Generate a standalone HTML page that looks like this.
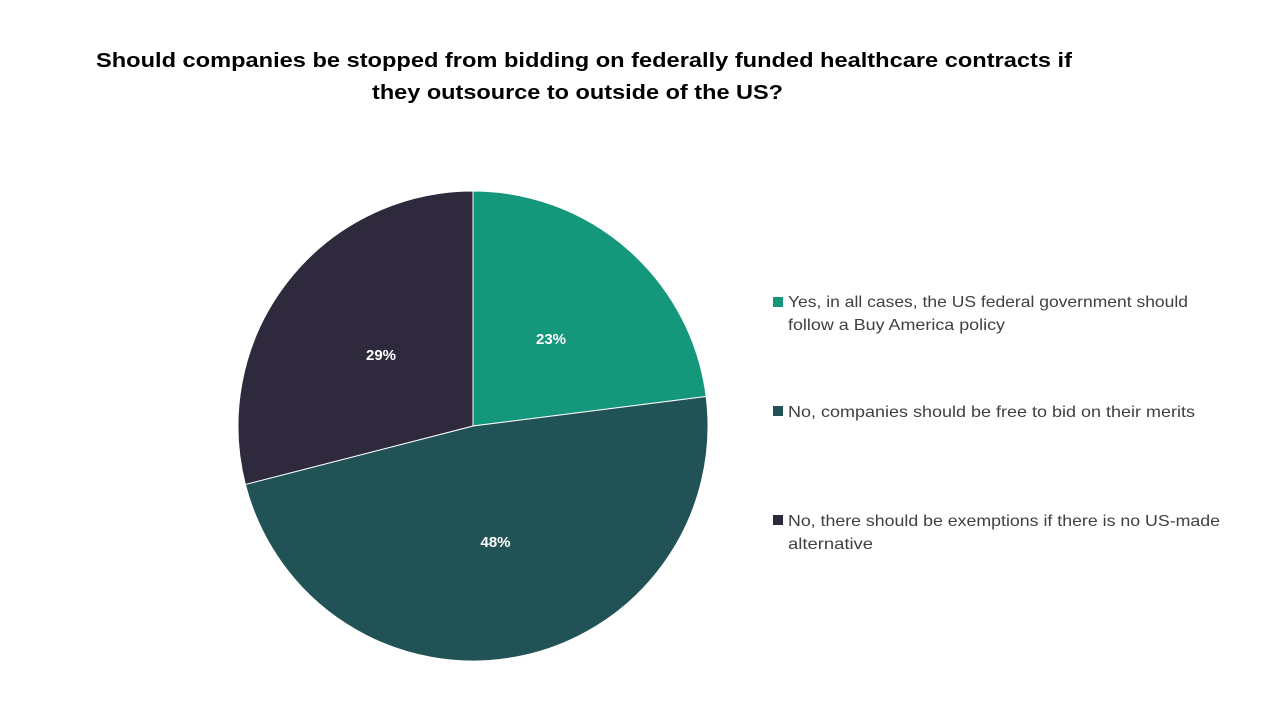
<!DOCTYPE html>
<html>
<head>
<meta charset="utf-8">
<style>
html,body{margin:0;padding:0;background:#fff;}
svg{display:block;}
</style>
</head>
<body>
<svg width="1280" height="720" viewBox="0 0 1280 720" xmlns="http://www.w3.org/2000/svg">
<rect width="1280" height="720" fill="#ffffff"/>
<g font-family="'Liberation Sans', sans-serif" font-weight="bold" font-size="20" fill="#000">
<text x="96" y="67" textLength="976" lengthAdjust="spacingAndGlyphs">Should companies be stopped from bidding on federally funded healthcare contracts if</text>
<text x="372" y="99" textLength="411" lengthAdjust="spacingAndGlyphs">they outsource to outside of the US?</text>
</g>
<g stroke="#ffffff" stroke-width="1" stroke-linejoin="round">
<path d="M473,426 L473,191 A235,235 0 0 1 706.15,396.55 Z" fill="#14977B"/>
<path d="M473,426 L706.15,396.55 A235,235 0 0 1 245.38,484.44 Z" fill="#215356"/>
<path d="M473,426 L245.38,484.44 A235,235 0 0 1 473,191 Z" fill="#2E293C"/>
</g>
<g font-family="'Liberation Sans', sans-serif" font-weight="bold" font-size="15" fill="#ffffff" text-anchor="middle">
<text x="551" y="344">23%</text>
<text x="381" y="360">29%</text>
<text x="495.5" y="547">48%</text>
</g>
<rect x="773" y="297" width="10" height="10" fill="#14977B"/>
<rect x="773" y="406" width="10" height="10" fill="#215356"/>
<rect x="773" y="515" width="10" height="10" fill="#2E293C"/>
<g font-family="'Liberation Sans', sans-serif" font-size="16" fill="#404040">
<text x="788" y="307" textLength="400" lengthAdjust="spacingAndGlyphs">Yes, in all cases, the US federal government should</text>
<text x="788" y="330" textLength="217" lengthAdjust="spacingAndGlyphs">follow a Buy America policy</text>
<text x="788" y="417" textLength="407" lengthAdjust="spacingAndGlyphs">No, companies should be free to bid on their merits</text>
<text x="788" y="526" textLength="432" lengthAdjust="spacingAndGlyphs">No, there should be exemptions if there is no US-made</text>
<text x="788" y="549" textLength="85" lengthAdjust="spacingAndGlyphs">alternative</text>
</g>
</svg>
</body>
</html>
